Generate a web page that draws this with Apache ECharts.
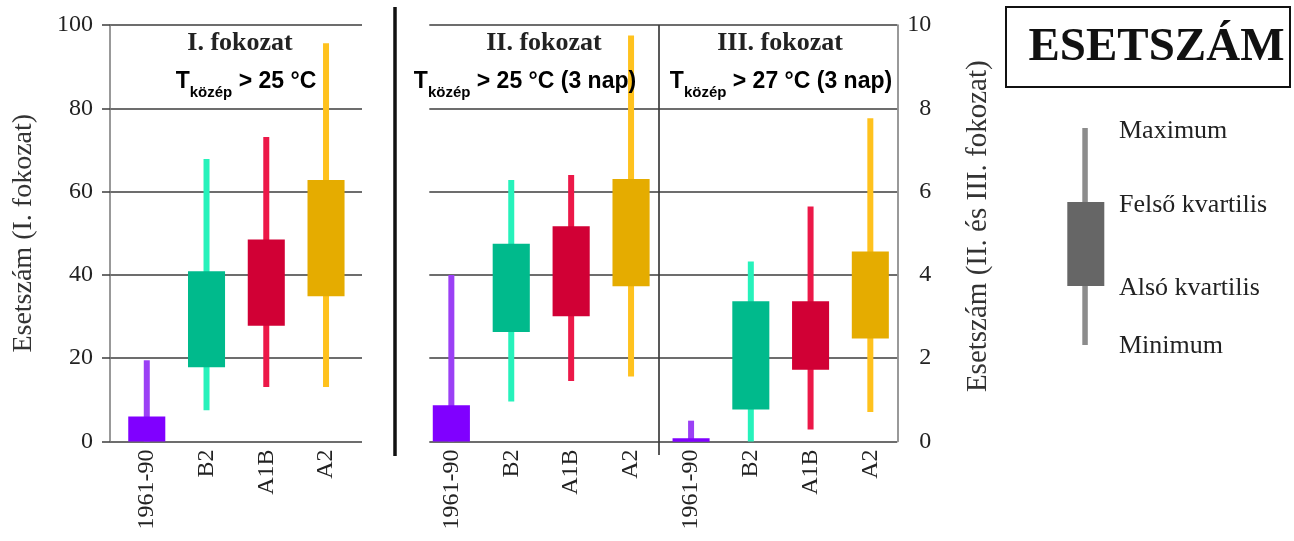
<!DOCTYPE html>
<html><head><meta charset="utf-8">
<script src="https://cdn.jsdelivr.net/npm/echarts@6/dist/echarts.min.js"></script>
<style>html,body{margin:0;padding:0;background:#fff}#c{width:1294px;height:541px}</style>
</head><body><div id="c"></div>
<script>
// ---- data ----
const categories = ['1961-90', 'B2', 'A1B', 'A2'];
// each row: [minimum, lower quartile, upper quartile, maximum]
const stage1 = [[0, 0, 6, 19.5], [7.5, 17.8, 40.9, 67.8], [13.1, 27.8, 48.5, 73.1], [13.1, 34.9, 62.8, 95.6]];
const stage2 = [[0, 0, 0.87, 4.0], [0.96, 2.63, 4.75, 6.28], [1.45, 3.01, 5.17, 6.40], [1.56, 3.73, 6.30, 9.75]];
const stage3 = [[0, 0, 0.08, 0.5], [0, 0.77, 3.37, 4.32], [0.29, 1.72, 3.37, 5.64], [0.71, 2.47, 4.56, 7.76]];
const leftAxis = {min: 0, max: 100, interval: 20};
const rightAxis = {min: 0, max: 10, interval: 2};
const panelTitles = ['I. fokozat', 'II. fokozat', 'III. fokozat'];
const panelConditions = [' > 25 °C', ' > 25 °C (3 nap)', ' > 27 °C (3 nap)'];
const legendLabels = ['Maximum', 'Felső kvartilis', 'Alsó kvartilis', 'Minimum'];

const boxColors = ['#8000ff', '#00ba8c', '#d10035', '#e5ac00'];
const whiskerColors = ['#9b40f5', '#26f2bb', '#ec1848', '#ffc21e'];

const SERIF = '"Liberation Serif", "Times New Roman", serif';
const SANS = '"Liberation Sans", Arial, sans-serif';
const TOP = 25, H = 416.5;

function renderBox(params, api) {
  const i = api.value(0);
  const pMin = api.coord([i, api.value(1)]);
  const pQ1 = api.coord([i, api.value(2)]);
  const pQ3 = api.coord([i, api.value(3)]);
  const pMax = api.coord([i, api.value(4)]);
  const band = api.size([1, 0])[0];
  const bw = band * 0.62, ww = 6;
  const x = pMin[0];
  const h = Math.max(pQ1[1] - pQ3[1], 3.5);
  return {type: 'group', children: [
    {type: 'rect', shape: {x: x - ww / 2, y: pMax[1], width: ww, height: pMin[1] - pMax[1]}, style: {fill: whiskerColors[i]}},
    {type: 'rect', shape: {x: x - bw / 2, y: pQ3[1], width: bw, height: h}, style: {fill: boxColors[i]}}
  ]};
}
const toData = arr => arr.map((d, i) => [i].concat(d));

const gridLine = {show: true, lineStyle: {color: '#3c3c3c', width: 1.5}};
const catAxis = gi => ({
  type: 'category', gridIndex: gi, data: categories, boundaryGap: true,
  axisLine: {show: false}, axisTick: {show: false},
  axisLabel: {rotate: 90, margin: 8, fontFamily: SERIF, fontSize: 24, color: '#222'}
});
const hiddenX = gi => ({type: 'category', gridIndex: gi, data: categories, show: false});
const hiddenY = (gi, ax) => ({type: 'value', gridIndex: gi, min: ax.min, max: ax.max, show: false});

const chart = echarts.init(document.getElementById('c'));
const sub = (x, y, cond) => ({
  type: 'text', z: 10,
  style: {
    x: x, y: y, align: 'center', verticalAlign: 'middle',
    text: '{m|T}{s|közép}{m|' + cond + '}',
    rich: {
      m: {fontFamily: SANS, fontWeight: 'bold', fontSize: 23, lineHeight: 36, fill: '#000', color: '#000'},
      s: {fontFamily: SANS, fontWeight: 'bold', fontSize: 15, lineHeight: 15, verticalAlign: 'bottom', fill: '#000', color: '#000'}
    }
  }
});
const ttl = (x, y, t) => ({type: 'text', z: 10, style: {x: x, y: y, align: 'center', verticalAlign: 'middle', text: t, font: 'bold 26px ' + SERIF, fill: '#222'}});
const legText = (y, t) => ({type: 'text', style: {x: 1119, y: y, align: 'left', verticalAlign: 'middle', text: t, font: '26px ' + SERIF, fill: '#222'}});

chart.setOption({
  animation: false,
  backgroundColor: '#fff',
  grid: [
    {left: 110, top: TOP, width: 252, height: H},
    {left: 116.9, top: TOP, width: 239, height: H},
    {left: 429.3, top: TOP, width: 468, height: H},
    {left: 421.4, top: TOP, width: 239.6, height: H},
    {left: 661.2, top: TOP, width: 239, height: H}
  ],
  xAxis: [hiddenX(0), catAxis(1), hiddenX(2), catAxis(3), catAxis(4)],
  yAxis: [
    {
      type: 'value', gridIndex: 0, position: 'left', min: leftAxis.min, max: leftAxis.max, interval: leftAxis.interval,
      name: 'Esetszám (I. fokozat)', nameLocation: 'middle', nameGap: 72,
      nameTextStyle: {fontFamily: SERIF, fontSize: 28, color: '#333'},
      axisLine: {show: true, lineStyle: {color: '#777', width: 1.5}},
      axisTick: {show: true, length: 8, lineStyle: {color: '#3c3c3c', width: 1.5}},
      axisLabel: {margin: 17, fontFamily: SERIF, fontSize: 24, color: '#222'},
      splitLine: gridLine
    },
    hiddenY(1, leftAxis),
    {
      type: 'value', gridIndex: 2, position: 'right', min: rightAxis.min, max: rightAxis.max, interval: rightAxis.interval,
      name: 'Esetszám (II. és III. fokozat)', nameLocation: 'middle', nameGap: 67,
      nameTextStyle: {fontFamily: SERIF, fontSize: 29, color: '#333', padding: [0, 0, 0, 14]},
      axisLine: {show: true, lineStyle: {color: '#777', width: 1.5}},
      axisTick: {show: false},
      axisLabel: {margin: 34, align: 'right', fontFamily: SERIF, fontSize: 24, color: '#222'},
      splitLine: gridLine
    },
    hiddenY(3, rightAxis),
    hiddenY(4, rightAxis)
  ],
  series: [
    {type: 'custom', xAxisIndex: 1, yAxisIndex: 1, renderItem: renderBox, data: toData(stage1), encode: {x: 0, y: [1, 2, 3, 4]}},
    {type: 'custom', xAxisIndex: 3, yAxisIndex: 3, renderItem: renderBox, data: toData(stage2), encode: {x: 0, y: [1, 2, 3, 4]}},
    {type: 'custom', xAxisIndex: 4, yAxisIndex: 4, renderItem: renderBox, data: toData(stage3), encode: {x: 0, y: [1, 2, 3, 4]}}
  ],
  graphic: [
    {type: 'line', shape: {x1: 395, y1: 7, x2: 395, y2: 456}, style: {stroke: '#111', lineWidth: 3.5}},
    {type: 'line', shape: {x1: 659, y1: 25, x2: 659, y2: 455}, style: {stroke: '#222', lineWidth: 1.5}},
    ttl(240, 43.5, panelTitles[0]), ttl(544, 43.5, panelTitles[1]), ttl(780, 43.5, panelTitles[2]),
    sub(246, 82, panelConditions[0]), sub(525, 82, panelConditions[1]), sub(781, 82, panelConditions[2]),
    {type: 'rect', shape: {x: 1006, y: 7, width: 284, height: 80}, style: {fill: 'none', stroke: '#111', lineWidth: 2}},
    {type: 'text', style: {x: 1156.5, y: 48, align: 'center', verticalAlign: 'middle', text: 'ESETSZÁM', font: 'bold 47px ' + SERIF, fill: '#111'}},
    {type: 'rect', shape: {x: 1082.3, y: 128, width: 5.5, height: 217}, style: {fill: '#8c8c8c'}},
    {type: 'rect', shape: {x: 1067.3, y: 202, width: 37, height: 84}, style: {fill: '#666'}},
    legText(131, legendLabels[0]), legText(205, legendLabels[1]), legText(288, legendLabels[2]), legText(346, legendLabels[3])
  ]
});
</script>
</body></html>
